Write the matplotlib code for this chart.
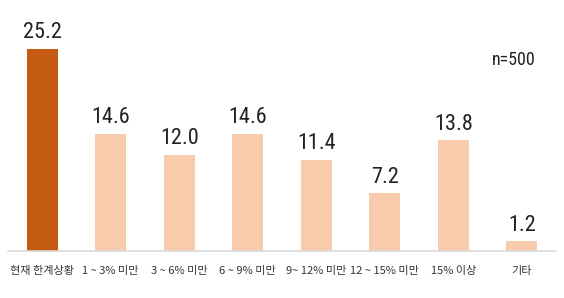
import matplotlib.pyplot as plt

plt.rcParams['font.family'] = ['Noto Sans CJK KR', 'DejaVu Sans']

categories = ['현재 한계상황', '1 ~ 3% 미만', '3 ~ 6% 미만', '6 ~ 9% 미만',
              '9~ 12% 미만', '12 ~ 15% 미만', '15% 이상', '기타']
values = [25.2, 14.6, 12.0, 14.6, 11.4, 7.2, 13.8, 1.2]
colors = ['#C55A11'] + ['#F8CBAD'] * 7
value_font = ['Roboto Condensed', 'DejaVu Sans Condensed', 'Liberation Sans Narrow',
              'Open Sans Condensed', 'DejaVu Sans']

fig = plt.figure(figsize=(5.64, 2.98), dpi=100)
ax = fig.add_axes([8 / 564, 47 / 298, 548 / 564, 251 / 298])

x = range(len(values))
ax.bar(x, values, width=0.45, color=colors)

for i, v in enumerate(values):
    ax.text(i, v + 0.7, f'{v:.1f}', ha='center', va='bottom', fontsize=16,
            color='#222222', family=value_font, stretch='condensed')

ax.text(7.2, 23.8, 'n=500', ha='right', va='center', fontsize=13,
        color='#222222', family=value_font, stretch='condensed')

ax.set_xlim(-0.5, 7.5)
ax.set_ylim(0, 31.3)
ax.set_xticks(list(x))
ax.set_xticklabels(categories, fontsize=8, color='#333333')
ax.tick_params(axis='x', length=0, pad=11)
ax.set_yticks([])
for s in ['top', 'right', 'left']:
    ax.spines[s].set_visible(False)
ax.spines['bottom'].set_color('#D9D9D9')
ax.spines['bottom'].set_linewidth(1.2)

fig.savefig('out.png', dpi=100)
